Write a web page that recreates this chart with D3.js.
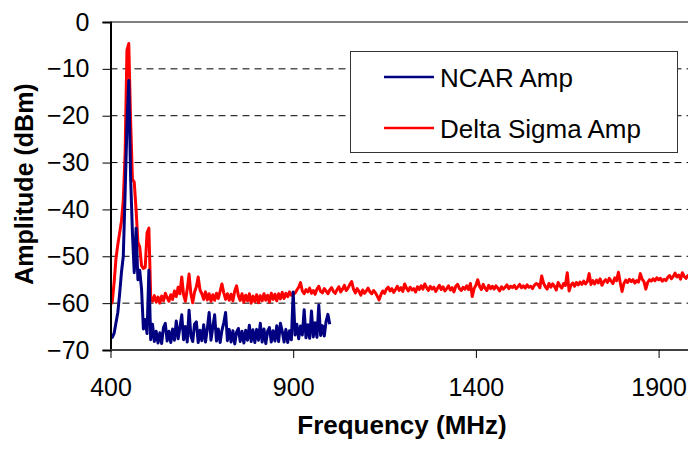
<!DOCTYPE html>
<html>
<head>
<meta charset="utf-8">
<script src="https://cdn.jsdelivr.net/npm/d3@7"></script>
<style>
  html, body { margin: 0; padding: 0; background: #fff; }
  svg { display: block; font-family: "Liberation Sans", Arial, sans-serif; }
</style>
</head>
<body>
<svg id="chart" width="688" height="449"></svg>
<script>
// Spectrum sweep: amplitude samples every 5 MHz starting at 400 MHz
const startFreq = 400;
const freqStep = 5;

const seriesNames = ["NCAR Amp", "Delta Sigma Amp"];
const seriesColors = ["#000080", "#ff0000"];

const xTicks = [400, 900, 1400, 1900];
const yTicks = [0, -10, -20, -30, -40, -50, -60, -70];

// NCAR amplifier, 400–1000 MHz
const ncarAmp = [
  -66.8,-67.3,-66.4,-64.2,-62.0,-58.0,-53.4,-50.0,-36.6,-22.0,
  -12.5,-33.0,-45.0,-53.5,-44.0,-55.0,-53.0,-57.0,-65.5,-63.5,
  -66.5,-53.0,-67.8,-64.5,-68.2,-66.0,-68.5,-66.3,-68.6,-65.2,
  -64.3,-68.1,-66.0,-68.4,-65.5,-67.9,-63.8,-67.6,-65.2,-62.5,
  -67.8,-65.0,-68.3,-61.5,-67.0,-68.2,-64.5,-64.0,-68.4,-65.8,
  -68.0,-64.6,-68.3,-65.4,-62.0,-67.9,-65.1,-62.5,-68.1,-65.5,
  -68.4,-65.8,-64.2,-62.0,-68.0,-65.6,-68.3,-65.9,-68.7,-66.2,
  -65.4,-68.2,-66.0,-68.5,-65.8,-67.9,-64.7,-68.2,-65.7,-68.4,
  -65.6,-67.9,-64.3,-68.3,-65.5,-68.6,-66.0,-65.2,-68.3,-65.9,
  -68.1,-64.8,-68.2,-64.3,-66.0,-68.3,-65.6,-68.4,-65.9,-67.8,
  -57.6,-66.8,-64.5,-67.6,-64.9,-66.8,-61.4,-67.4,-64.6,-67.5,
  -61.7,-67.2,-64.2,-67.3,-60.4,-66.9,-64.8,-67.0,-63.9,-62.4,
  -64.5
];

// Delta Sigma amplifier, 400–2000 MHz
const deltaSigmaAmp = [
  -60.4,-59.6,-55.5,-50.5,-47.5,-45.0,-42.5,-38.0,-28.0,-6.0,
  -4.6,-21.0,-33.5,-34.2,-40.0,-47.0,-48.0,-52.0,-52.6,-52.4,
  -45.0,-44.0,-58.6,-59.6,-58.4,-59.8,-58.7,-60.0,-58.5,-59.5,
  -57.9,-58.8,-59.6,-58.2,-59.2,-57.4,-58.6,-56.6,-58.0,-54.4,
  -58.2,-59.6,-57.0,-53.8,-58.0,-59.9,-57.6,-56.5,-54.4,-57.2,
  -58.0,-59.2,-57.6,-59.3,-58.0,-59.6,-58.2,-59.4,-57.9,-59.0,
  -57.5,-55.9,-57.8,-59.2,-58.0,-59.4,-58.1,-59.5,-57.4,-56.3,
  -58.4,-59.4,-58.0,-59.8,-58.3,-59.5,-58.0,-60.0,-58.5,-59.7,
  -58.2,-59.9,-58.4,-59.5,-58.0,-59.4,-58.3,-59.8,-57.9,-59.2,
  -58.1,-59.5,-58.0,-59.1,-57.7,-59.0,-57.9,-58.6,-57.6,-58.3,
  -57.9,-57.9,-57.2,-56.6,-55.6,-57.4,-58.0,-57.1,-57.6,-56.8,
  -57.9,-57.3,-58.1,-57.0,-56.4,-57.5,-57.8,-56.9,-57.4,-58.0,
  -57.2,-56.7,-57.5,-57.9,-57.1,-56.5,-57.6,-57.0,-56.2,-57.3,
  -56.8,-56.0,-55.4,-57.0,-57.8,-56.9,-57.5,-58.3,-57.2,-57.9,
  -57.4,-56.8,-57.6,-58.0,-57.3,-57.8,-58.5,-59.3,-58.2,-57.4,
  -57.9,-57.0,-56.6,-57.4,-56.9,-57.7,-57.1,-56.4,-57.3,-56.7,
  -57.5,-55.9,-56.8,-57.4,-56.6,-57.2,-56.9,-57.6,-56.5,-57.1,
  -56.3,-57.0,-55.9,-56.7,-57.3,-56.4,-57.0,-56.6,-57.5,-56.8,
  -56.2,-57.1,-56.5,-57.4,-56.9,-56.3,-57.2,-56.7,-57.6,-56.4,
  -56.0,-56.9,-57.3,-56.6,-57.0,-56.3,-57.1,-55.8,-58.6,-56.9,
  -56.2,-55.0,-56.4,-57.1,-56.0,-56.8,-57.3,-56.2,-56.9,-56.4,
  -57.0,-56.3,-56.8,-57.4,-56.5,-57.0,-56.6,-56.1,-56.9,-56.4,
  -56.7,-56.2,-56.9,-56.5,-56.0,-56.7,-56.3,-56.8,-56.1,-56.6,
  -56.4,-56.9,-56.2,-55.8,-56.0,-56.7,-54.2,-55.7,-56.5,-57.0,
  -55.8,-56.6,-55.9,-56.4,-57.2,-55.6,-56.3,-56.8,-55.8,-56.2,
  -53.5,-57.4,-56.2,-55.7,-56.4,-55.6,-56.1,-55.5,-56.0,-55.3,
  -55.9,-55.4,-53.7,-56.0,-55.2,-55.9,-55.1,-55.7,-54.8,-56.2,
  -55.4,-55.0,-55.6,-54.7,-55.3,-55.8,-54.6,-55.2,-53.4,-55.6,
  -57.5,-55.8,-55.1,-55.6,-54.9,-55.4,-55.0,-55.7,-55.2,-55.5,
  -53.7,-54.9,-55.4,-57.0,-55.6,-55.0,-55.3,-54.8,-55.2,-54.6,
  -55.0,-54.7,-55.3,-54.9,-55.2,-54.5,-54.1,-54.8,-54.3,-53.6,
  -54.4,-54.0,-54.9,-53.5,-54.3,-54.7,-54.1,-54.5,-54.2,-54.8,
  -54.4
];

const svg = d3.select("#chart");
const W = 688, H = 449;
const plot = { left: 110.5, top: 22, bottom: 350 };

const x = d3.scaleLinear().domain([400, 2000]).range([plot.left, plot.left + 1600 / 500 * 182.7]);
const y = d3.scaleLinear().domain([-70, 0]).range([plot.bottom, plot.top]);

const toPoints = vals => vals.map((v, i) => ({ f: startFreq + i * freqStep, a: v }));

// clip traces to the plot area
svg.append("defs").append("clipPath").attr("id", "plotClip")
  .append("rect")
  .attr("x", plot.left).attr("y", plot.top - 2)
  .attr("width", W - plot.left).attr("height", plot.bottom - plot.top + 2);

// dashed horizontal gridlines
svg.append("g").selectAll("line")
  .data(yTicks.filter(t => t > -70 && t < 0))
  .join("line")
  .attr("x1", plot.left).attr("x2", W)
  .attr("y1", d => y(d)).attr("y2", d => y(d))
  .attr("stroke", "#000").attr("stroke-width", 1)
  .attr("stroke-dasharray", "7,5");

// plot-area top border
svg.append("line")
  .attr("x1", plot.left).attr("x2", W)
  .attr("y1", y(0)).attr("y2", y(0))
  .attr("stroke", "#808080").attr("stroke-width", 2);

// traces
const line = d3.line().x(d => x(d.f)).y(d => y(d.a));
const traces = svg.append("g").attr("clip-path", "url(#plotClip)");
traces.append("path")
  .datum(toPoints(deltaSigmaAmp))
  .attr("d", line)
  .attr("fill", "none")
  .attr("stroke", seriesColors[1])
  .attr("stroke-width", 3)
  .attr("stroke-linejoin", "round");
traces.append("path")
  .datum(toPoints(ncarAmp))
  .attr("d", line)
  .attr("fill", "none")
  .attr("stroke", seriesColors[0])
  .attr("stroke-width", 3)
  .attr("stroke-linejoin", "round");

// y axis
const yAxis = svg.append("g")
  .attr("transform", `translate(${plot.left},0)`)
  .call(d3.axisLeft(y).tickValues(yTicks).tickSize(8).tickPadding(13).tickFormat(d3.format("d")));
yAxis.select(".domain").attr("stroke", "#000").attr("stroke-width", 2);
yAxis.selectAll(".tick line").attr("stroke", "#000").attr("stroke-width", 1);
yAxis.selectAll(".tick text")
  .attr("font-family", "'Liberation Sans', Arial, sans-serif")
  .attr("font-size", 25).attr("fill", "#000");

// x axis
const xAxis = svg.append("g")
  .attr("transform", `translate(0,${plot.bottom})`)
  .call(d3.axisBottom(x).tickValues(xTicks).tickSize(8).tickFormat(d3.format("d")));
xAxis.select(".domain").attr("stroke", "#404040").attr("stroke-width", 2)
  .attr("d", `M${plot.left},0H${W}`);
xAxis.selectAll(".tick line").attr("stroke", "#000").attr("stroke-width", 1);
xAxis.selectAll(".tick text")
  .attr("y", 46).attr("dy", 0)
  .attr("font-family", "'Liberation Sans', Arial, sans-serif")
  .attr("font-size", 25).attr("fill", "#000");

// axis titles
svg.append("text")
  .attr("x", 402).attr("y", 434)
  .attr("text-anchor", "middle")
  .attr("font-size", 26).attr("font-weight", "bold")
  .text("Frequency (MHz)");

svg.append("text")
  .attr("transform", "translate(33,184) rotate(-90)")
  .attr("text-anchor", "middle")
  .attr("font-size", 25).attr("font-weight", "bold")
  .text("Amplitude (dBm)");

// legend
const legend = svg.append("g");
legend.append("rect")
  .attr("x", 350.5).attr("y", 51.5)
  .attr("width", 327).attr("height", 101)
  .attr("fill", "#fff").attr("stroke", "#333").attr("stroke-width", 1);
const legendRows = [77, 128];
seriesNames.forEach((name, i) => {
  legend.append("line")
    .attr("x1", 384).attr("x2", 434)
    .attr("y1", legendRows[i]).attr("y2", legendRows[i])
    .attr("stroke", seriesColors[i]).attr("stroke-width", 2.6);
  legend.append("text")
    .attr("x", 440).attr("y", legendRows[i] + 9.5)
    .attr("font-size", 26).attr("fill", "#000")
    .text(name);
});
</script>
</body>
</html>
